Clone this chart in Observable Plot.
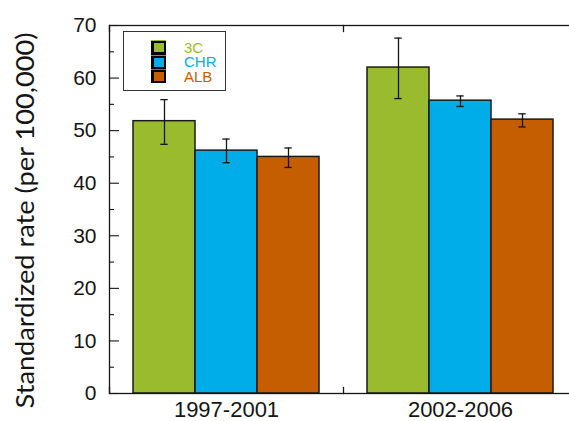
<!DOCTYPE html>
<html>
<head>
<meta charset="utf-8">
<script src="https://cdn.jsdelivr.net/npm/d3@7"></script>
<script src="https://cdn.jsdelivr.net/npm/@observablehq/plot@0.6"></script>
<style>
  html, body { margin: 0; padding: 0; background: #fff; overflow: hidden; }
  #wrap { position: relative; width: 569px; height: 421px; }
  #legend-box { position: absolute; left: 123px; top: 31px; width: 101px; height: 58px; border: 1.5px solid #333; background: #fff; }
  .sw { position: absolute; left: 151px; width: 15px; height: 14.3px; background: #000; box-sizing: border-box; border-top: 1px solid; }
  .sw i { position: absolute; left: 2.5px; top: 2px; width: 10px; height: 9px; }
  .lt { position: absolute; left: 184px; font: 15px "Liberation Sans", Arial, sans-serif; line-height: 14.3px; white-space: nowrap; }
</style>
</head>
<body>
<div id="wrap"></div>
<script>
const groups = ["1997-2001", "2002-2006"];
const series = ["3C", "CHR", "ALB"];
const colors = ["#9BBB2F", "#00ADE9", "#C55E00"];
const rate1997 = [51.8, 46.2, 45.0];
const low1997 = [47.4, 43.9, 43.0];
const high1997 = [55.9, 48.4, 46.7];
const rate2002 = [62.0, 55.7, 52.1];
const low2002 = [56.1, 54.6, 50.7];
const high2002 = [67.6, 56.6, 53.2];
const yTicks = [0, 10, 20, 30, 40, 50, 60, 70];
const yMinorTicks = [5, 15, 25, 35, 45, 55, 65];
const yLabel = "Standardized rate (per 100,000)";

const rows = [];
series.forEach((s, i) => {
  rows.push({group: groups[0], series: s, value: rate1997[i], low: low1997[i], high: high1997[i]});
});
series.forEach((s, i) => {
  rows.push({group: groups[1], series: s, value: rate2002[i], low: low2002[i], high: high2002[i]});
});

const ink = "#151515";
const chart = Plot.plot({
  width: 569,
  height: 421,
  marginLeft: 108,
  marginRight: -8,
  marginTop: 25,
  marginBottom: 28,
  style: {background: "transparent", color: ink},
  fx: {domain: groups, padding: 0, label: null},
  x: {domain: series, paddingInner: 0, paddingOuter: 0.371, axis: null},
  y: {domain: [0, 70], label: yLabel},
  color: {domain: series, range: colors},
  marks: [
    Plot.barY(rows, {fx: "group", x: "series", y: "value", fill: "series", stroke: "#1a1a1a", strokeWidth: 1.5}),
    Plot.ruleX(rows, {fx: "group", x: "series", y1: "low", y2: "high", stroke: ink, strokeWidth: 1.3}),
    Plot.tickY(rows, {fx: "group", x: "series", y: "low", insetLeft: 27.3, insetRight: 27.3, stroke: ink, strokeWidth: 1.3}),
    Plot.tickY(rows, {fx: "group", x: "series", y: "high", insetLeft: 27.3, insetRight: 27.3, stroke: ink, strokeWidth: 1.3}),
    Plot.frame({facet: "super", stroke: ink, strokeWidth: 1.3}),
    Plot.frame({anchor: "left", insetBottom: 362, stroke: ink, strokeWidth: 1.3}),
    Plot.frame({anchor: "left", insetTop: 362, stroke: ink, strokeWidth: 1.3}),
    Plot.axisY({ticks: yTicks, tickSize: 10, dx: 10, tickFormat: () => "", label: null, stroke: ink, strokeWidth: 1.1}),
    Plot.axisY({ticks: yMinorTicks, tickSize: 5, dx: 5, tickFormat: () => "", label: null, stroke: ink, strokeWidth: 1.1}),
    Plot.axisY({ticks: yTicks, tickSize: 0, tickPadding: 13, label: null, fontSize: 21, fontFamily: "Liberation Sans, Arial, sans-serif", fill: ink}),
    Plot.axisY({ticks: [], tickSize: 0, label: yLabel, labelAnchor: "center", labelArrow: "none", labelOffset: 94, fontSize: 25.5, fontFamily: "Lato, sans-serif", fill: ink}),
    Plot.axisFx({anchor: "bottom", tickSize: 0, tickPadding: 8, label: null, fontSize: 22, fontFamily: "Liberation Sans, Arial, sans-serif", fill: ink})
  ]
});

const wrap = document.getElementById("wrap");
wrap.appendChild(chart);

// fit the y-axis title to the reference length (a condensed face is not installed)
chart.querySelectorAll("text").forEach((el) => {
  if (el.textContent === yLabel) {
    el.setAttribute("textLength", 376);
    el.setAttribute("lengthAdjust", "spacingAndGlyphs");
    el.setAttribute("dx", -11);
  }
});

const box = document.createElement("div");
box.id = "legend-box";
wrap.appendChild(box);
series.forEach((s, i) => {
  const top = 40.3 + i * 14.3;
  const sw = document.createElement("div");
  sw.className = "sw";
  sw.style.top = top + "px";
  sw.style.borderTopColor = colors[i];
  const inner = document.createElement("i");
  inner.style.background = colors[i];
  sw.appendChild(inner);
  wrap.appendChild(sw);
  const t = document.createElement("div");
  t.className = "lt";
  t.style.top = (top + 0.8) + "px";
  t.style.color = colors[i];
  t.textContent = s;
  wrap.appendChild(t);
});
</script>
</body>
</html>
